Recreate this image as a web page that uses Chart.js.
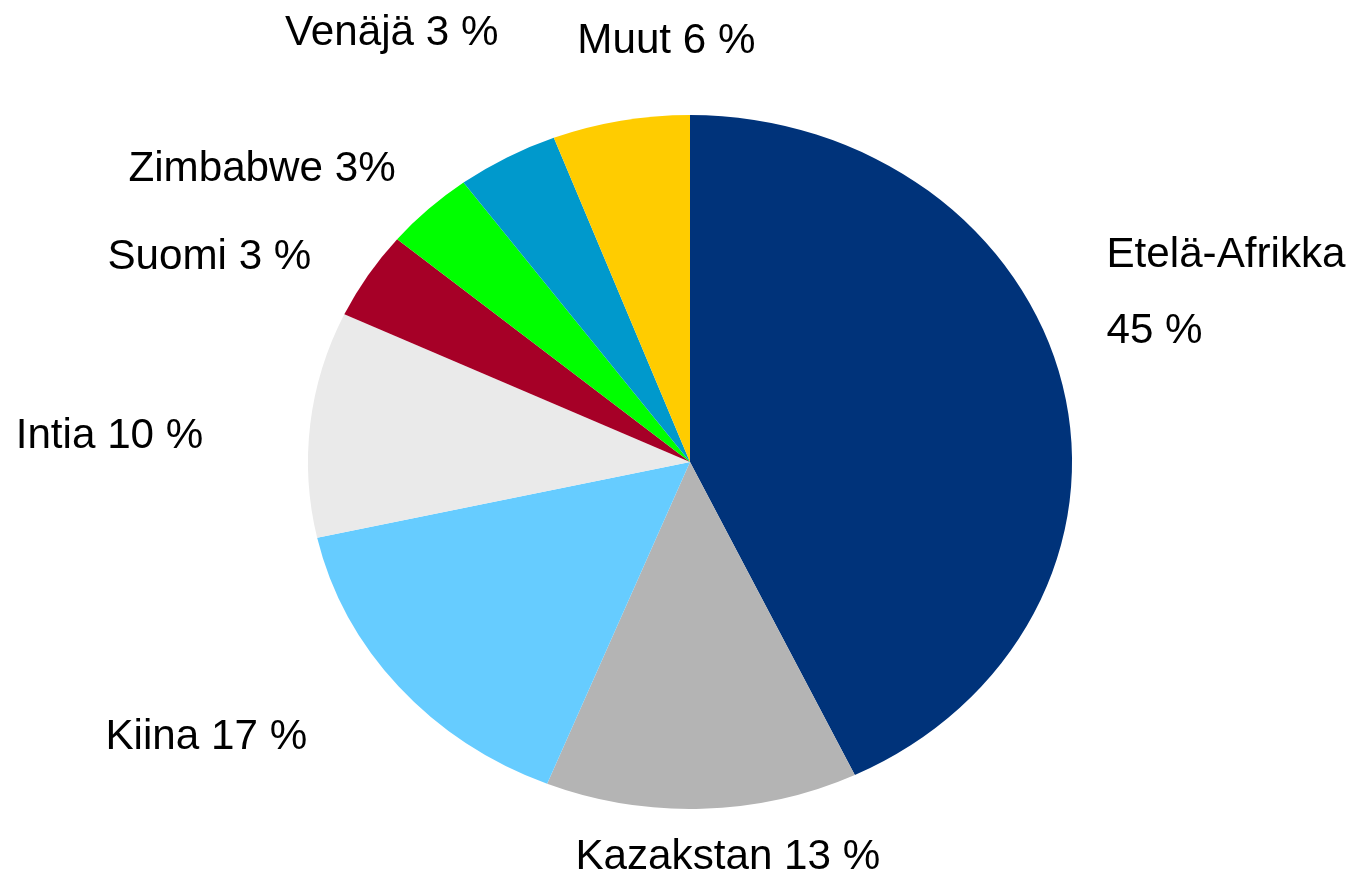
<!DOCTYPE html>
<html>
<head>
<meta charset="utf-8">
<script src="https://cdn.jsdelivr.net/npm/chart.js@4/dist/chart.umd.min.js"></script>
<style>
  html, body { margin: 0; padding: 0; background: #ffffff; }
  #wrap { width: 1355px; height: 875px; position: relative; }
</style>
</head>
<body>
<div id="wrap"><canvas id="c" width="1355" height="875"></canvas></div>
<script>
// ---- data ----
const categories = ['Etelä-Afrikka', 'Kazakstan', 'Kiina', 'Intia', 'Suomi', 'Zimbabwe', 'Venäjä', 'Muut'];
const sliceValues = [42.9, 13.2, 15.4, 10.5, 4.1, 3.8, 4.3, 5.8];   // slice sizes as drawn
const labelTexts = [['Etelä-Afrikka', '45 %'], ['Kazakstan 13 %'], ['Kiina 17 %'], ['Intia 10 %'],
                    ['Suomi 3 %'], ['Zimbabwe 3%'], ['Venäjä 3 %'], ['Muut 6 %']];
const sliceColors = ['#00337A', '#B4B4B4', '#66CCFF', '#EAEAEA', '#A60027', '#00FF00', '#0099CC', '#FFCC00'];

// ---- layout (label anchors relative to pie centre, in units of the pie's radii) ----
const xStretch = 1.101;
const labelLayout = [
  { fx: 1.09,  fy: -0.563, align: 'left', lineGap: 76 },
  { fx: -0.30, fy: 1.174, align: 'left' },
  { fx: -1.53, fy: 0.826, align: 'left' },
  { fx: -1.765, fy: -0.04, align: 'left' },
  { fx: -1.525, fy: -0.555, align: 'left' },
  { fx: -1.47, fy: -0.81, align: 'left' },
  { fx: -1.06, fy: -1.203, align: 'left' },
  { fx: -0.295, fy: -1.18, align: 'left' }
];

const stretchPlugin = {
  id: 'stretch',
  beforeDatasetsDraw(chart) {
    const arc = chart.getDatasetMeta(0).data[0];
    const ctx = chart.ctx;
    ctx.save();
    ctx.translate(arc.x, arc.y);
    ctx.scale(xStretch, 1);
    ctx.translate(-arc.x, -arc.y);
  },
  afterDatasetsDraw(chart) {
    chart.ctx.restore();
  }
};

const labelPlugin = {
  id: 'pieLabels',
  afterDraw(chart) {
    const arc = chart.getDatasetMeta(0).data[0];
    const ry = arc.outerRadius, rx = arc.outerRadius * xStretch;
    const ctx = chart.ctx;
    ctx.save();
    ctx.fillStyle = '#000000';
    ctx.font = '42.2px "Liberation Sans", Arial, sans-serif';
    ctx.textBaseline = 'alphabetic';
    labelTexts.forEach((lines, i) => {
      const L = labelLayout[i];
      ctx.textAlign = L.align;
      const x = arc.x + L.fx * rx;
      const y = arc.y + L.fy * ry;
      lines.forEach((t, j) => ctx.fillText(t, x, y + j * (L.lineGap || 0)));
    });
    ctx.restore();
  }
};

new Chart(document.getElementById('c'), {
  type: 'pie',
  data: {
    labels: categories,
    datasets: [{
      data: sliceValues,
      backgroundColor: sliceColors,
      borderWidth: 0,
      clip: false
    }]
  },
  options: {
    responsive: false,
    animation: false,
    events: [],
    layout: { padding: { left: 343, right: 318, top: 115, bottom: 66 } },
    plugins: { legend: { display: false }, tooltip: { enabled: false } }
  },
  plugins: [stretchPlugin, labelPlugin]
});
</script>
</body>
</html>
